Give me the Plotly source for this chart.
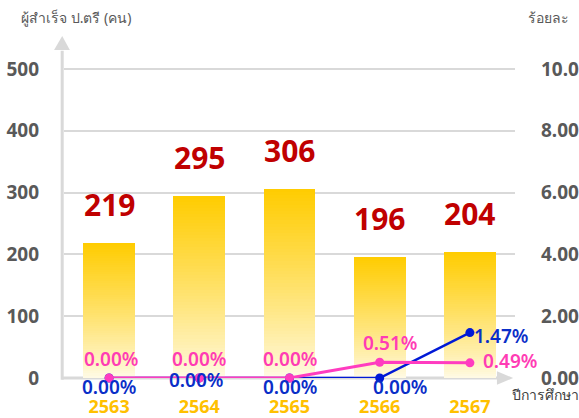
import plotly.graph_objects as go

years = ["2563", "2564", "2565", "2566", "2567"]
graduates = [219, 295, 306, 196, 204]
pct_blue = [0.00, 0.00, 0.00, 0.00, 1.47]
pct_pink = [0.00, 0.00, 0.00, 0.51, 0.49]
left_ticks = [0, 100, 200, 300, 400, 500]
right_ticks = [0, 2, 4, 6, 8, 10]

FONT = "Noto Sans"
GOLD_TOP = (255, 204, 0)
GOLD_BOT = (255, 251, 232)
BLUE = "#0019d6"
BLUE_TXT = "#0a2ec8"
PINK = "#ff3cc0"
PINK_TXT = "#ff3cb4"
GRID = "#d9d9d9"
TICK = "#595959"

fig = go.Figure()

N = 60
for k in range(N):
    t = (k + 0.5) / N
    f = t ** 0.85
    col = tuple(int(round(GOLD_BOT[i] + (GOLD_TOP[i] - GOLD_BOT[i]) * f)) for i in range(3))
    fig.add_trace(go.Bar(
        x=years, y=[v / N for v in graduates], base=[v * k / N for v in graduates],
        width=0.576, marker=dict(color="rgb(%d,%d,%d)" % col, line=dict(width=0)),
        showlegend=False, hoverinfo="skip"))

fig.add_trace(go.Scatter(x=years, y=pct_blue, yaxis="y2", mode="lines+markers",
                         line=dict(color=BLUE, width=2.5), marker=dict(size=9, color=BLUE),
                         showlegend=False, cliponaxis=False))
fig.add_trace(go.Scatter(x=years, y=pct_pink, yaxis="y2", mode="lines+markers",
                         line=dict(color=PINK, width=3), marker=dict(size=9, color=PINK),
                         showlegend=False, cliponaxis=False))

ann = []
for i, v in enumerate(graduates):
    ann.append(dict(x=i, y=v, text=str(v), showarrow=False, yshift=38,
                    font=dict(family=FONT, size=30, color="#c00000", weight="bold")))

blue_shift = [(0, -9), (-3, -2), (0, -9), (20, -9), (31, -3)]
pink_shift = [(2, 19), (0, 19), (0, 19), (10, 19), (40, 2)]
for i, (v, (dx, dy)) in enumerate(zip(pct_blue, blue_shift)):
    ann.append(dict(x=i, y=v, yref="y2", text="%.2f%%" % v, showarrow=False,
                    xshift=dx, yshift=dy,
                    font=dict(family=FONT, size=19, color=BLUE_TXT, weight=600)))
for i, (v, (dx, dy)) in enumerate(zip(pct_pink, pink_shift)):
    ann.append(dict(x=i, y=v, yref="y2", text="%.2f%%" % v, showarrow=False,
                    xshift=dx, yshift=dy,
                    font=dict(family=FONT, size=19, color=PINK_TXT, weight=600)))

ann.append(dict(xref="paper", yref="paper", x=-0.1, y=1.08, xanchor="left", yanchor="middle",
                text="ผู้สำเร็จ ป.ตรี (คน)", showarrow=False,
                font=dict(family=FONT, size=14, color=TICK)))
ann.append(dict(xref="paper", yref="paper", x=1.025, y=1.08, xanchor="left", yanchor="middle",
                text="ร้อยละ", showarrow=False,
                font=dict(family=FONT, size=14, color=TICK)))
ann.append(dict(xref="paper", yref="paper", x=0.99, y=-0.05, xanchor="left", yanchor="middle",
                text="ปีการศึกษา", showarrow=False,
                font=dict(family=FONT, size=14, color="#404040")))

shapes = [
    dict(type="line", xref="paper", yref="paper", x0=-0.004, x1=-0.004, y0=-0.005, y1=0.98,
         line=dict(color=GRID, width=3), layer="below"),
    dict(type="path", xref="paper", yref="paper",
         path="M -0.022 0.982 L 0.013 0.982 L -0.004 1.024 Z",
         fillcolor=GRID, line=dict(width=0), layer="below"),
    dict(type="line", xref="paper", yref="paper", x0=-0.004, x1=0.962, y0=0, y1=0,
         line=dict(color=GRID, width=3), layer="below"),
    dict(type="path", xref="paper", yref="paper",
         path="M 0.96 0.02 L 0.96 -0.02 L 0.996 0 Z",
         fillcolor=GRID, line=dict(width=0), layer="below"),
]

fig.update_layout(
    width=579, height=418,
    margin=dict(l=64, r=64, t=44, b=40, autoexpand=False),
    paper_bgcolor="white", plot_bgcolor="white",
    barmode="overlay", bargap=0,
    annotations=ann, shapes=shapes,
    xaxis=dict(type="category", showgrid=False, showline=False, zeroline=False,
               range=[-0.5, 4.5], ticks="", ticklabelstandoff=16, automargin=False,
               tickfont=dict(family=FONT, size=18, color="#ffc000", weight="bold")),
    yaxis=dict(range=[0, 540.4], tickvals=left_ticks, showgrid=True, gridcolor=GRID,
               gridwidth=2, zeroline=False, showline=False, ticks="",
               ticklabelstandoff=24, automargin=False,
               tickfont=dict(family=FONT, size=19, color=TICK, weight="bold")),
    yaxis2=dict(range=[0, 10.808], tickvals=right_ticks, tickformat=".2f", overlaying="y",
                side="right", showgrid=False, zeroline=False, showline=False, ticks="",
                ticklabelstandoff=25, automargin=False,
                tickfont=dict(family=FONT, size=19, color=TICK, weight="bold")),
)

fig.write_html("out.html", config={"displayModeBar": False},
               post_script="document.body.style.margin='0px';document.body.style.overflow='hidden';")
